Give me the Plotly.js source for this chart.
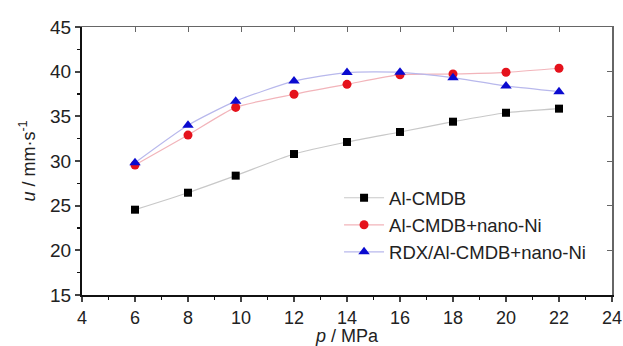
<!DOCTYPE html>
<html><head><meta charset="utf-8">
<script src="https://cdn.plot.ly/plotly-3.0.1.min.js"></script>
<style>html,body{margin:0;padding:0;background:#fff}#c{width:623px;height:346px}</style>
</head><body><div id="c"></div>
<script>
const pressure = [6, 8, 9.8, 12, 14, 16, 18, 20, 22];
const alCmdb = [24.55, 26.45, 28.36, 30.78, 32.13, 33.25, 34.4, 35.4, 35.86];
const alCmdbNi = [29.55, 32.9, 36.0, 37.47, 38.58, 39.66, 39.74, 39.93, 40.38];
const rdxAlCmdbNi = [29.8, 34.0, 36.7, 38.95, 39.9, 39.93, 39.33, 38.4, 37.76];
const seriesNames = ['Al-CMDB', 'Al-CMDB+nano-Ni', 'RDX/Al-CMDB+nano-Ni'];
const xTicks = [4, 6, 8, 10, 12, 14, 16, 18, 20, 22, 24];
const yTicks = [15, 20, 25, 30, 35, 40, 45];

const font = 'Liberation Sans, Arial, sans-serif';
function tr(y, name, sym, col, lcol, size) {
  return {x: pressure, y: y, name: name, type: 'scatter', mode: 'lines+markers',
    line: {color: lcol, width: 1.2, shape: 'spline', smoothing: 0.6},
    marker: {symbol: sym, color: col, size: size, line: {width: 0}}};
}
const data = [
  tr(alCmdb, seriesNames[0], 'square', '#000000', '#c8c8c8', 8),
  tr(alCmdbNi, seriesNames[1], 'circle', '#e5121c', '#f2b4ba', 9),
  tr(rdxAlCmdbNi, seriesNames[2], 'triangle-up', '#0a0ad0', '#b8b8ec', 10),
  {x: [4], y: [15], xaxis: 'x2', yaxis: 'y2', mode: 'markers', marker: {opacity: 0}, showlegend: false, hoverinfo: 'skip'}
];
const layout = {
  width: 623, height: 346,
  margin: {l: 82, r: 11, t: 27, b: 51},
  paper_bgcolor: '#fff', plot_bgcolor: '#fff',
  showlegend: true,
  legend: {x: 0.485, y: 0.432, xanchor: 'left', yanchor: 'top', bgcolor: 'rgba(0,0,0,0)',
    font: {family: font, size: 18.5, color: '#222'}, tracegroupgap: 0, itemwidth: 40},
  xaxis: {range: [4, 24], tickvals: xTicks, ticktext: xTicks.map(String), ticks: 'outside', ticklen: 5, tickwidth: 2,
    showline: true, linewidth: 2, linecolor: '#111', showgrid: false, zeroline: false, ticklabeloverflow: 'allow',
    tickfont: {family: font, size: 18, color: '#222'},
    minor: {dtick: 1, ticks: 'outside', ticklen: 3, tickwidth: 1.5, tickcolor: '#111'},
    title: {text: '<i>p</i> / MPa', font: {family: font, size: 18, color: '#222'}, standoff: 4}},
  yaxis: {range: [15, 45], tickvals: yTicks, ticktext: yTicks.map(String), ticks: 'outside', ticklen: 5, tickwidth: 2,
    showline: true, linewidth: 2, linecolor: '#111', showgrid: false, zeroline: false, ticklabeloverflow: 'allow',
    tickfont: {family: font, size: 19, color: '#222'},
    minor: {dtick: 2.5, ticks: 'outside', ticklen: 3, tickwidth: 1.5, tickcolor: '#111'},
    title: {text: '<i>u</i> / mm·s<sup>-1</sup>', font: {family: font, size: 18, color: '#222'}, standoff: 10}},
  xaxis2: {overlaying: 'x', side: 'top', range: [4, 24], dtick: 2, tick0: 4, ticks: 'inside', ticklen: 5,
    showticklabels: false, showline: true, linewidth: 1.5, linecolor: '#666', tickcolor: '#666',
    showgrid: false, zeroline: false, anchor: 'y2'},
  yaxis2: {overlaying: 'y', side: 'right', range: [15, 45], dtick: 5, tick0: 15, ticks: 'inside', ticklen: 5,
    showticklabels: false, showline: true, linewidth: 1.5, linecolor: '#666', tickcolor: '#666',
    showgrid: false, zeroline: false, anchor: 'x2'}
};
Plotly.newPlot('c', data, layout, {displayModeBar: false, staticPlot: true});
</script></body></html>
